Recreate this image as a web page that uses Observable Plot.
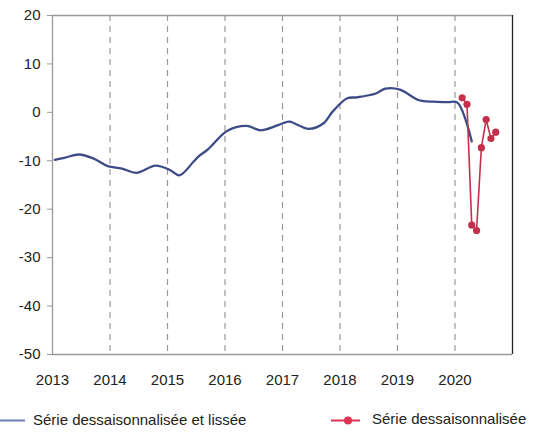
<!DOCTYPE html>
<html>
<head>
<meta charset="utf-8">
<script src="https://cdn.jsdelivr.net/npm/d3@7"></script>
<script src="https://cdn.jsdelivr.net/npm/@observablehq/plot@0.6"></script>
<style>
  body { margin: 0; background: #fff; font-family: "Liberation Sans", Arial, sans-serif; }
  #wrap { position: relative; width: 540px; height: 434px; }
  .leg { position: absolute; font-size: 15px; color: #222; white-space: nowrap; }
</style>
</head>
<body>
<div id="wrap">
  <div id="chart"></div>
  <svg width="540" height="34" style="position:absolute;left:0;top:400px" id="legsvg">
    <line x1="0" x2="25" y1="20.5" y2="20.5" stroke="#6d7dbd" stroke-width="2"/>
    <line x1="331" x2="360" y1="20.5" y2="20.5" stroke="#e0334f" stroke-width="2"/>
    <circle cx="348" cy="20.5" r="4" fill="#e0334f"/>
  </svg>
  <div class="leg" style="left:33px;top:411px;">Série dessaisonnalisée et lissée</div>
  <div class="leg" style="left:372px;top:410px;">Série dessaisonnalisée</div>
</div>
<script>
// Smoothed seasonally-adjusted series (key monthly readings)
const smoothMonths = ["2013-01","2013-03","2013-06","2013-09","2013-12","2014-03","2014-06","2014-10",
  "2015-01","2015-03","2015-06","2015-07","2015-09","2016-01","2016-05","2016-08","2017-01","2017-02",
  "2017-06","2017-09","2017-11","2018-02","2018-04","2018-08","2018-10","2019-01","2019-05","2019-08",
  "2019-11","2020-01","2020-04"];
const smoothValues = [-9.8,-9.4,-8.7,-9.5,-11.1,-11.6,-12.5,-11.0,
  -11.9,-13.0,-10.1,-9.1,-7.6,-3.8,-2.8,-3.7,-2.1,-1.9,
  -3.4,-2.3,0.2,2.9,3.1,3.9,4.9,4.7,2.5,2.2,
  2.1,2.0,-6.0];
// Seasonally-adjusted series (raw)
const rawMonths = ["2020-02","2020-03","2020-04","2020-05","2020-06","2020-07","2020-08","2020-09"];
const rawValues = [3.0,1.65,-23.3,-24.4,-7.3,-1.5,-5.4,-4.1];
const yearTicks = [2013,2014,2015,2016,2017,2018,2019,2020];
const gridYears = [2014,2015,2016,2017,2018,2019,2020];
const yTicks = [-50,-40,-30,-20,-10,0,10,20];

const toDec = s => { const [y,m] = s.split("-").map(Number); return y + (m - 0.5) / 12; };
const smooth = smoothMonths.map((m,i) => ({x: toDec(m), y: smoothValues[i]}));
const raw = rawMonths.map((m,i) => ({x: toDec(m), y: rawValues[i]}));

const chart = Plot.plot({
  width: 540,
  height: 400,
  marginTop: 15,
  marginBottom: 46,
  marginLeft: 52,
  marginRight: 28,
  style: {fontFamily: "'Liberation Sans', Arial, sans-serif", fontSize: "15px", color: "#222", background: "#fff"},
  x: {domain: [2013, 2021]},
  y: {domain: [-50, 20]},
  marks: [
    Plot.ruleX(gridYears, {stroke: "#999", strokeWidth: 1.2, strokeDasharray: "6 5"}),
    Plot.ruleY([20], {stroke: "#999", strokeWidth: 1.3}),
    Plot.ruleY([-50], {stroke: "#999", strokeWidth: 1.3}),
    Plot.ruleX([2013], {stroke: "#999", strokeWidth: 1.3}),
    Plot.ruleX([2021], {stroke: "#222", strokeWidth: 1.3}),
    Plot.axisY({ticks: yTicks, tickSize: 5, tickPadding: 7, stroke: "#999", label: null, tickFormat: d => String(d), fontSize: 15}),
    Plot.axisX({ticks: yearTicks, tickSize: 0, tickPadding: 20, label: null, tickFormat: d => String(d), fontSize: 15}),
    Plot.line(smooth, {x: "x", y: "y", stroke: "#3d4c87", strokeWidth: 2.3, curve: "catmull-rom"}),
    Plot.line(raw, {x: "x", y: "y", stroke: "#c4304b", strokeWidth: 1.6}),
    Plot.dot(raw, {x: "x", y: "y", fill: "#c4304b", r: 3.6})
  ]
});
document.getElementById("chart").appendChild(chart);
</script>
</body>
</html>
